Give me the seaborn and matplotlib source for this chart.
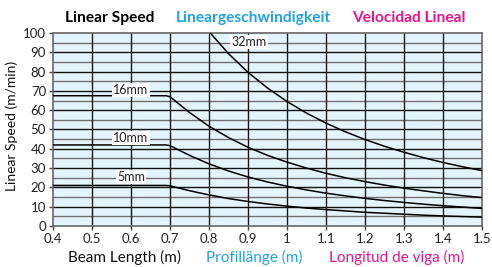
import numpy as np
import pandas as pd
import matplotlib
matplotlib.use("Agg")
import matplotlib.pyplot as plt
import seaborn as sns

# ---- data ----
x_flat = [0.4, 0.5, 0.6, 0.69]
x_curve = [0.7, 0.75, 0.8, 0.85, 0.9, 0.95, 1.0, 1.05, 1.1, 1.15, 1.2, 1.25, 1.3, 1.35, 1.4, 1.45, 1.5]

speed_16 = [67.5, 67.5, 67.5, 67.5] + [67.0, 58.8, 51.7, 45.8, 40.8, 36.6, 33.1, 30.0, 27.3, 25.0, 23.0, 21.2, 19.6, 18.2, 16.9, 15.7, 14.7]
speed_10 = [42.0, 42.0, 42.0, 42.0] + [41.6, 36.6, 32.2, 28.5, 25.4, 22.8, 20.6, 18.7, 17.0, 15.6, 14.3, 13.2, 12.2, 11.3, 10.5, 9.8, 9.1]
speed_5 = [21.0, 21.0, 21.0, 21.0] + [20.8, 18.3, 16.1, 14.2, 12.7, 11.4, 10.3, 9.3, 8.5, 7.8, 7.1, 6.6, 6.1, 5.6, 5.2, 4.9, 4.6]
x_32 = [0.8, 0.85, 0.9, 0.95, 1.0, 1.05, 1.1, 1.15, 1.2, 1.25, 1.3, 1.35, 1.4, 1.45, 1.5]
speed_32 = [100.8, 89.3, 79.6, 71.5, 64.5, 58.5, 53.3, 48.8, 44.8, 41.3, 38.2, 35.4, 32.9, 30.7, 28.7]

series_labels = ["32mm", "16mm", "10mm", "5mm"]
label_x = [0.903, 0.60, 0.60, 0.60]
label_y = [95, 70, 45, 25]

x_ticks = [0.4, 0.5, 0.6, 0.7, 0.8, 0.9, 1, 1.1, 1.2, 1.3, 1.4, 1.5]
x_ticklabels = ["0.4", "0.5", "0.6", "0.7", "0.8", "0.9", "1", "1.1", "1.2", "1.3", "1.4", "1.5"]
y_ticks = list(range(0, 101, 10))

BLUE = "#1fa3e3"
PINK = "#e8148a"

sns.set_theme(style="ticks")
plt.rcParams["font.family"] = ["Lato", "DejaVu Sans"]

fig = plt.figure(figsize=(4.92, 2.67), dpi=100)
ax = fig.add_axes([0.1077, 0.1536, 0.8720, 0.7228])
ax.set_facecolor("#e4f4fc")

frames = [
    pd.DataFrame({"x": x_32, "y": speed_32}),
    pd.DataFrame({"x": x_flat + x_curve, "y": speed_16}),
    pd.DataFrame({"x": x_flat + x_curve, "y": speed_10}),
    pd.DataFrame({"x": x_flat + x_curve, "y": speed_5}),
]
for df in frames:
    sns.lineplot(data=df, x="x", y="y", ax=ax, color="black", lw=1.1, zorder=4)

# grid
for v in range(5, 100, 5):
    ax.axhline(v, color="#111111" if v % 10 == 0 else "#707070", lw=1.0, zorder=1)
for xv in x_ticks[1:-1]:
    ax.axvline(xv, color="#1a1a1a", lw=1.0, zorder=1)

for lab, lx, ly in zip(series_labels, label_x, label_y):
    ax.text(lx, ly + 0.5, lab, ha="center", va="center", fontsize=9, color="#222222",
            bbox=dict(facecolor="white", edgecolor="none", pad=0.8), zorder=5)

ax.set_xlim(0.4, 1.5)
ax.set_ylim(0, 100)
ax.set_xticks(x_ticks)
ax.set_xticklabels(x_ticklabels)
ax.set_yticks(y_ticks)
ax.tick_params(axis="both", labelsize=9.5, length=3, width=1, color="#444444", pad=2, labelcolor="#222222")
for s in ax.spines.values():
    s.set_color("#666666")
    s.set_linewidth(1.2)
ax.set_xlabel("")
ax.set_ylabel("Linear Speed (m/min)", fontsize=10, color="#111111")
ax.yaxis.set_label_coords(-0.082, 0.52)

# title row
fig.text(65 / 492, 1 - 18 / 267, "Linear Speed", fontsize=11.2, fontweight="bold", color="black", va="center", ha="left")
fig.text(176 / 492, 1 - 18 / 267, "Lineargeschwindigkeit", fontsize=11.2, fontweight="bold", color=BLUE, va="center", ha="left")
fig.text(352 / 492, 1 - 18 / 267, "Velocidad Lineal", fontsize=11.2, fontweight="bold", color=PINK, va="center", ha="left")

# x label row
fig.text(68 / 492, 1 - 257 / 267, "Beam Length (m)", fontsize=11, color="#111111", va="center", ha="left")
fig.text(206 / 492, 1 - 257 / 267, "Profillänge (m)", fontsize=11, color=BLUE, va="center", ha="left")
fig.text(329 / 492, 1 - 257 / 267, "Longitud de viga (m)", fontsize=11, color=PINK, va="center", ha="left")

fig.savefig("out.png", dpi=100)
